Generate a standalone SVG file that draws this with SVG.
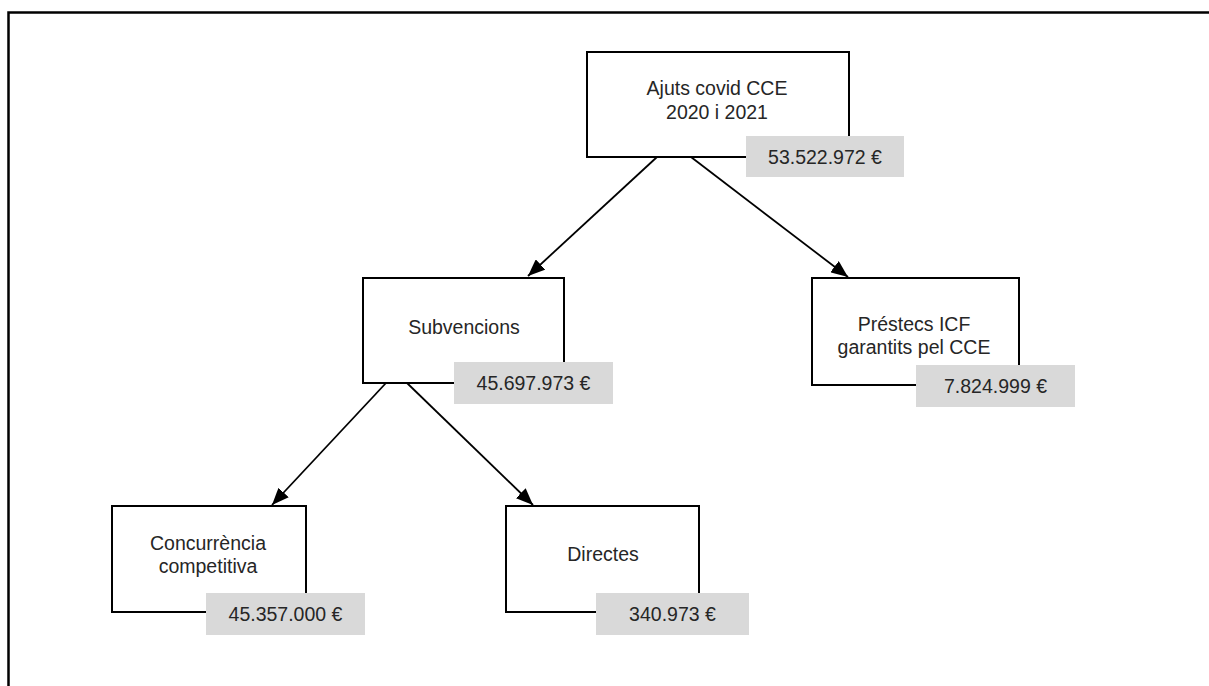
<svg xmlns="http://www.w3.org/2000/svg" width="1209" height="686" viewBox="0 0 1209 686">
<defs>
<style>
.box{fill:#fff;stroke:#000;stroke-width:2}
.amt{fill:#d9d9d9;stroke:none}
.t{font-family:"Liberation Sans",Arial,sans-serif;font-size:19.5px;fill:#262626;text-anchor:middle}
.c{stroke:#000;stroke-width:1.8;fill:none;marker-end:url(#ah)}
</style>
<marker id="ah" markerUnits="userSpaceOnUse" markerWidth="18" markerHeight="14" refX="17" refY="7" orient="auto">
<path d="M0,0 L17,7 L0,14 z" fill="#000"/>
</marker>
</defs>
<rect width="1209" height="686" fill="#fff"/>
<path d="M8.5,686 V12.5 H1209" fill="none" stroke="#000" stroke-width="2.5"/>
<g id="connectors">
<line class="c" x1="657" y1="157" x2="528" y2="276"/>
<line class="c" x1="691" y1="157" x2="848" y2="277"/>
<line class="c" x1="386" y1="383" x2="272" y2="505"/>
<line class="c" x1="407" y1="383" x2="533" y2="505"/>
</g>
<g id="n-ajuts">
<rect class="box" x="587" y="52" width="262" height="105"/>
<text class="t" x="717" y="95">Ajuts covid CCE</text>
<text class="t" x="717" y="119">2020 i 2021</text>
<rect class="amt" x="746" y="136" width="158" height="41"/>
<text class="t" x="825" y="163.5">53.522.972 €</text>
</g>
<g id="n-subvencions">
<rect class="box" x="363" y="278" width="201" height="105"/>
<text class="t" x="464" y="334">Subvencions</text>
<rect class="amt" x="454" y="362" width="159" height="42"/>
<text class="t" x="533.5" y="390">45.697.973 €</text>
</g>
<g id="n-prestecs">
<rect class="box" x="812" y="278" width="207" height="107"/>
<text class="t" x="914" y="331">Préstecs ICF</text>
<text class="t" x="914" y="354">garantits pel CCE</text>
<rect class="amt" x="916" y="365" width="159" height="42"/>
<text class="t" x="995.5" y="393">7.824.999 €</text>
</g>
<g id="n-concurrencia">
<rect class="box" x="112" y="506" width="194" height="106"/>
<text class="t" x="208" y="550">Concurrència</text>
<text class="t" x="208" y="573">competitiva</text>
<rect class="amt" x="206" y="593" width="159" height="42"/>
<text class="t" x="285.5" y="621">45.357.000 €</text>
</g>
<g id="n-directes">
<rect class="box" x="506" y="506" width="193" height="106"/>
<text class="t" x="603" y="561">Directes</text>
<rect class="amt" x="596" y="593" width="153" height="42"/>
<text class="t" x="672.5" y="621">340.973 €</text>
</g>
</svg>
